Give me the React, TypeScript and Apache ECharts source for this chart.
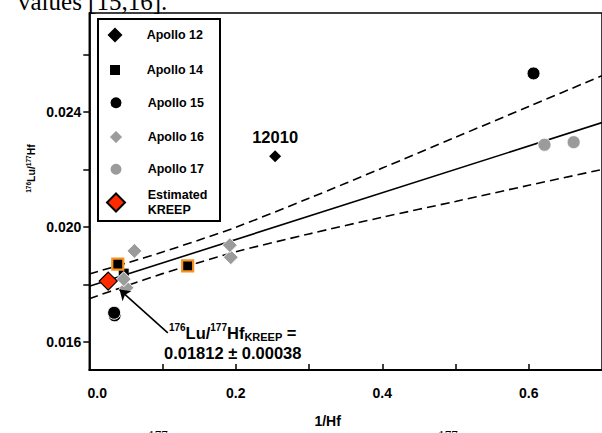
import React, { useEffect, useRef } from 'react';
import * as echarts from 'echarts';

// ---------- data ----------
const SERIES_NAMES = ['Apollo 12', 'Apollo 14', 'Apollo 15', 'Apollo 16', 'Apollo 17', 'Estimated KREEP'];

const APOLLO12: number[][] = [[0.2537, 0.02246]];
const APOLLO12_LABELS = ['12010'];
const APOLLO14: number[][] = [[0.047, 0.01838], [0.0389, 0.01871], [0.1343, 0.01865]];
const APOLLO14_FLAGGED = [false, true, true];
const APOLLO15: number[][] = [[0.6065, 0.02534], [0.0346, 0.01693], [0.0339, 0.01702]];
const APOLLO16: number[][] = [[0.0616, 0.01917], [0.1932, 0.01895], [0.1919, 0.01937], [0.0507, 0.01789], [0.0471, 0.01819]];
const APOLLO17: number[][] = [[0.6215, 0.02286], [0.6613, 0.02295]];
const KREEP: number[][] = [[0.0258, 0.01812]];

const FIT_X = [0, 0.7];
const FIT_Y = [0.01794, 0.02363];
const BAND_X = [0, 0.05, 0.1, 0.15, 0.2, 0.3, 0.4, 0.5, 0.6, 0.7];
const BAND_UPPER = [0.01837, 0.01874, 0.01913, 0.01955, 0.01999, 0.021, 0.02205, 0.02312, 0.02419, 0.02526];
const BAND_LOWER = [0.01751, 0.01795, 0.01838, 0.01877, 0.01914, 0.01976, 0.02034, 0.02089, 0.02145, 0.022];

const X_TICKS = [0.1, 0.2, 0.3, 0.4, 0.5, 0.6];
const X_LABELS = [0, 0.2, 0.4, 0.6];
const Y_TICKS = [0.016, 0.018, 0.02, 0.022, 0.024, 0.026];
const Y_LABELS = [0.016, 0.02, 0.024];

const ARROW_FROM = [0.1072, 0.016322];
const ARROW_TO = [0.0413, 0.017827];

// ---------- styling ----------
const FONT = '"Liberation Sans", Arial, Helvetica, sans-serif';
const SERIF = '"Liberation Serif", "Times New Roman", serif';
const GRAY = '#9b9b9b';
const ORANGE = '#f7931e';
const RED = '#ff2a00';

const LEGEND_ICON = [15, 10, 13, 15, 13, 18];
const LEGEND_CY = [35, 70, 102.7, 136, 169.3, 202.5];

export default function App() {
  const ref = useRef<HTMLDivElement>(null);

  useEffect(() => {
    if (!ref.current) return;
    const chart = echarts.init(ref.current, undefined, { renderer: 'svg' });

    const pairs = (xs: number[], ys: number[]) => xs.map((x, i) => [x, ys[i]]);

    const legends = SERIES_NAMES.map((name, i) => {
      const s = LEGEND_ICON[i];
      const lines = name === 'Estimated KREEP' ? 2 : 1;
      const h = Math.max(s, 15 * lines);
      return {
        data: [name],
        left: 115 - s / 2,
        top: LEGEND_CY[i] - h / 2,
        orient: 'vertical',
        itemWidth: s,
        itemHeight: s,
        padding: 0,
        selectedMode: false,
        formatter: (n: string) => (n === 'Estimated KREEP' ? 'Estimated\nKREEP' : n),
        textStyle: {
          fontSize: 12.5,
          fontWeight: 'bold',
          color: '#000',
          fontFamily: FONT,
          lineHeight: 15,
          padding: [0, 0, 0, 146.7 - (115 + s / 2 + 5)],
        },
      };
    });

    const option: any = {
      animation: false,
      backgroundColor: '#fff',
      textStyle: { fontFamily: FONT },
      grid: {
        left: 89.3,
        right: -3.2,
        top: 13,
        bottom: 58,
        show: true,
        borderColor: '#000',
        borderWidth: 1.5,
        containLabel: false,
      },
      legend: legends,
      xAxis: {
        type: 'value',
        min: 0,
        max: 0.7,
        name: '1/Hf',
        nameLocation: 'middle',
        nameGap: 44,
        nameTextStyle: { fontSize: 14, fontWeight: 'bold', color: '#000', fontFamily: FONT, padding: [0, 36, 0, 0] },
        axisLine: { show: true, onZero: false, lineStyle: { color: '#000', width: 1.8 } },
        axisTick: { show: true, inside: true, length: 6, customValues: X_TICKS, lineStyle: { color: '#000', width: 1.5 } },
        axisLabel: {
          customValues: X_LABELS,
          margin: 16,
          fontSize: 14,
          fontWeight: 'bold',
          color: '#000',
          fontFamily: FONT,
          formatter: (v: number) => (v === 0 ? '{z|0.0}' : v.toFixed(1)),
          rich: { z: { padding: [0, 0, 0, 16], fontSize: 14, fontWeight: 'bold', fontFamily: FONT, color: '#000' } },
        },
        splitLine: { show: false },
      },
      yAxis: {
        type: 'value',
        min: 0.01503,
        max: 0.02744,
        axisLine: { show: true, onZero: false, lineStyle: { color: '#000', width: 1.8 } },
        axisTick: { show: true, inside: false, length: 6, customValues: Y_TICKS, lineStyle: { color: '#000', width: 1.5 } },
        axisLabel: {
          customValues: Y_LABELS,
          margin: 8,
          fontSize: 14,
          fontWeight: 'bold',
          color: '#000',
          fontFamily: FONT,
          formatter: (v: number) => v.toFixed(3),
        },
        splitLine: { show: false },
      },
      graphic: [
        {
          type: 'rect',
          shape: { x: 98, y: 19, width: 122, height: 202 },
          style: { fill: 'none', stroke: '#000', lineWidth: 2 },
          z: 10,
        },
        {
          type: 'text',
          x: 31,
          y: 168.5,
          rotation: Math.PI / 2,
          style: {
            text: '{sup|176}{b|Lu/}{sup|177}{b|Hf}',
            align: 'center',
            verticalAlign: 'middle',
            fill: '#000',
            rich: {
              b: { fontSize: 10.5, fontWeight: 'bold', fontFamily: FONT, lineHeight: 12, fill: '#000' },
              sup: { fontSize: 6.5, fontWeight: 'bold', fontFamily: FONT, lineHeight: 7, verticalAlign: 'top', fill: '#000' },
            },
          },
        },
        {
          type: 'text',
          x: 232.7,
          y: 342.6,
          style: {
            text: '{sup|176}{b|Lu/}{sup|177}{b|Hf}{sub|KREEP}{b| =}\n{b|0.01812 ± 0.00038}',
            align: 'center',
            verticalAlign: 'middle',
            fill: '#000',
            rich: {
              b: { fontSize: 16.5, fontWeight: 'bold', fontFamily: FONT, lineHeight: 20, fill: '#000' },
              sup: { fontSize: 10, fontWeight: 'bold', fontFamily: FONT, lineHeight: 10, verticalAlign: 'top', fill: '#000' },
              sub: { fontSize: 11, fontWeight: 'bold', fontFamily: FONT, lineHeight: 16.7, verticalAlign: 'bottom', fill: '#000' },
            },
          },
        },
        {
          type: 'text',
          x: 18,
          y: 1,
          style: { text: 'values [15,16].', fontSize: 25, fontFamily: SERIF, fill: '#000', align: 'left', verticalAlign: 'middle' },
        },
        {
          type: 'text',
          x: 158,
          y: 434.5,
          style: { text: '177', fontSize: 13, fontFamily: SERIF, fill: '#000', align: 'center', verticalAlign: 'middle' },
        },
        {
          type: 'text',
          x: 448,
          y: 434.5,
          style: { text: '177', fontSize: 13, fontFamily: SERIF, fill: '#000', align: 'center', verticalAlign: 'middle' },
        },
      ],
      series: [
        {
          name: 'fit',
          type: 'line',
          data: pairs(FIT_X, FIT_Y),
          symbol: 'none',
          lineStyle: { color: '#000', width: 1.6 },
          silent: true,
          z: 1,
        },
        {
          name: 'upper',
          type: 'line',
          data: pairs(BAND_X, BAND_UPPER),
          symbol: 'none',
          smooth: 0.3,
          lineStyle: { color: '#000', width: 1.6, type: [9, 5] },
          silent: true,
          z: 1,
        },
        {
          name: 'lower',
          type: 'line',
          data: pairs(BAND_X, BAND_LOWER),
          symbol: 'none',
          smooth: 0.3,
          lineStyle: { color: '#000', width: 1.6, type: [9, 5] },
          silent: true,
          z: 1,
        },
        {
          name: 'Apollo 12',
          type: 'scatter',
          symbol: 'diamond',
          symbolSize: 12,
          itemStyle: { color: '#000', opacity: 1 },
          data: APOLLO12.map((p, i) => ({ value: p, name: APOLLO12_LABELS[i] })),
          label: {
            show: true,
            position: 'top',
            distance: 5,
            formatter: (p: any) => p.name,
            fontSize: 16.5,
            fontWeight: 'bold',
            color: '#000',
            opacity: 1,
            fontFamily: FONT,
          },
        },
        {
          name: 'Apollo 14',
          type: 'scatter',
          symbol: 'rect',
          symbolSize: 11,
          itemStyle: { color: '#000', opacity: 1 },
          data: APOLLO14.map((p, i) =>
            APOLLO14_FLAGGED[i]
              ? { value: p, itemStyle: { borderColor: ORANGE, borderWidth: 2.2 } }
              : { value: p, symbolSize: 10 }
          ),
        },
        {
          name: 'Apollo 15',
          type: 'scatter',
          symbol: 'circle',
          symbolSize: 13,
          itemStyle: { color: '#000', borderColor: '#fff', borderWidth: 1, opacity: 1 },
          data: APOLLO15,
        },
        {
          name: 'Apollo 16',
          type: 'scatter',
          symbol: 'diamond',
          symbolSize: 15,
          itemStyle: { color: GRAY, borderColor: '#fff', borderWidth: 1, opacity: 1 },
          data: APOLLO16,
        },
        {
          name: 'Apollo 17',
          type: 'scatter',
          symbol: 'circle',
          symbolSize: 13,
          itemStyle: { color: GRAY, borderColor: '#fff', borderWidth: 0.8, opacity: 1 },
          data: APOLLO17,
        },
        {
          name: 'Estimated KREEP',
          type: 'scatter',
          symbol: 'diamond',
          symbolSize: 18,
          itemStyle: { color: RED, borderColor: '#000', borderWidth: 1.2, opacity: 1 },
          data: KREEP,
          z: 5,
          markLine: {
            silent: true,
            symbol: ['none', 'arrow'],
            symbolSize: 10,
            label: { show: false },
            lineStyle: { color: '#000', width: 1.6, type: 'solid', opacity: 1 },
            data: [[{ coord: ARROW_FROM }, { coord: ARROW_TO }]],
          },
        },
      ],
    };

    chart.setOption(option);
    return () => {
      chart.dispose();
    };
  }, []);

  return (
    <div
      ref={ref}
      style={{ position: 'absolute', left: 0, top: 0, width: 602, height: 433, background: '#fff' }}
    />
  );
}
